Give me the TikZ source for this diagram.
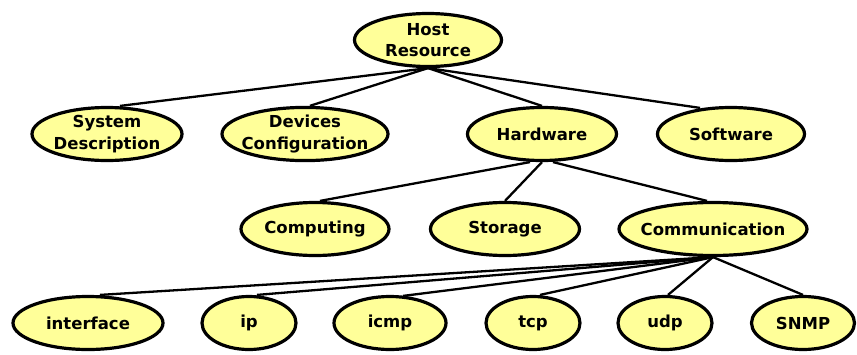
\documentclass[tikz,border=0pt]{standalone}
\usepackage{fontspec}
\setmainfont{DejaVu Sans}[BoldFont={DejaVu Sans Bold}]
\usetikzlibrary{shapes.geometric}
\definecolor{nodefill}{RGB}{255,255,153}
\pgfdeclarelayer{back}
\pgfsetlayers{back,main}
% zero-width line so that the ellipse size comes from minimum width only
\newcommand{\zw}[1]{\makebox[0pt]{#1}}
\tikzset{
  topic/.style={ellipse, draw=black, line width=3.2pt, fill=nodefill,
    inner sep=0pt, minimum height=53pt, align=center,
    font=\fontsize{16.5}{21.5}\selectfont\bfseries},
  link/.style={line width=2.3pt, black}
}
\begin{document}
\begin{tikzpicture}[x=1pt,y=-1pt]
\useasboundingbox (0,0) rectangle (857,354);
% level 0
\node[topic, minimum width=147pt] (host) at (428,40) {\zw{Host}\\\zw{Resource}};
% level 1
\node[topic, minimum width=150pt] (sys) at (107,134) {\zw{System}\\\zw{Description}};
\node[topic, minimum width=166pt] (dev) at (305,134) {\zw{Devices}\\\zw{Configuration}};
\node[topic, minimum width=149pt] (hw) at (542,134) {\zw{Hardware}};
\node[topic, minimum width=147pt] (sw) at (731,134) {\zw{Software}};
% level 2
\node[topic, minimum width=148pt] (comp) at (315,229) {\zw{Computing}};
\node[topic, minimum width=149pt] (stor) at (505,229) {\zw{Storage}};
\node[topic, minimum width=188pt] (comm) at (713,229) {\zw{Communication}};
% level 3
\node[topic, minimum width=150pt] (if) at (88,323) {\zw{interface}};
\node[topic, minimum width=94pt] (ip) at (249,323) {\zw{ip}};
\node[topic, minimum width=112pt] (icmp) at (390,323) {\zw{icmp}};
\node[topic, minimum width=94pt] (tcp) at (533,323) {\zw{tcp}};
\node[topic, minimum width=94pt] (udp) at (665,323) {\zw{udp}};
\node[topic, minimum width=103pt] (snmp) at (803,323) {\zw{SNMP}};
% tree links, behind the ellipses
\begin{pgfonlayer}{back}
  \draw[link] (host.south) -- ([xshift=13pt]sys.north);
  \draw[link] (host.south) -- ([xshift=5pt]dev.north);
  \draw[link] (host.south) -- (hw.north);
  \draw[link] (host.south) -- ([xshift=-31pt,yshift=-2pt]sw.north);
  \draw[link] ([xshift=-12pt]hw.south) -- ([xshift=5pt]comp.north);
  \draw[link] (hw.south) -- (stor.north);
  \draw[link] ([xshift=11pt]hw.south) -- ([xshift=-6pt]comm.north);
  \draw[link] (comm.south) -- ([xshift=12pt]if.north);
  \draw[link] (comm.south) -- ([xshift=8pt]ip.north);
  \draw[link] (comm.south) -- ([xshift=13pt,yshift=-1pt]icmp.north);
  \draw[link] (comm.south) -- ([xshift=7pt]tcp.north);
  \draw[link] (comm.south) -- ([xshift=3pt]udp.north);
  \draw[link] (comm.south) -- (snmp.north);
\end{pgfonlayer}
\end{tikzpicture}
\end{document}
